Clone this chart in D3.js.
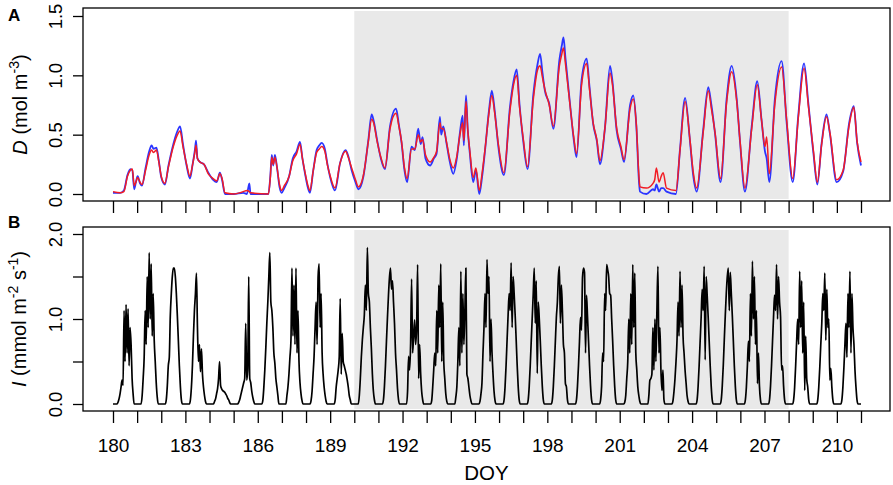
<!DOCTYPE html>
<html>
<head>
<meta charset="utf-8">
<script src="https://cdn.jsdelivr.net/npm/d3@7"></script>
<style>
  body { margin: 0; background: #fff; }
  svg text { font-family: "Liberation Sans", Arial, Helvetica, sans-serif; fill: #000; }
</style>
</head>
<body>
<script>
// ---- panel A: D, two series (doy, blue, red)
var dDoy = [180.00, 180.30, 180.45, 180.60, 180.72, 180.80, 180.88, 180.95, 181.02, 181.12, 181.20, 181.35, 181.50, 181.60, 181.68, 181.80, 181.90, 182.00, 182.15, 182.30, 182.50, 182.65, 182.78, 182.90, 183.05, 183.19, 183.30, 183.40, 183.44, 183.50, 183.60, 183.77, 183.95, 184.15, 184.30, 184.43, 184.52, 184.64, 185.00, 185.40, 185.55, 185.65, 185.70, 186.44, 186.52, 186.58, 186.64, 186.71, 186.80, 186.90, 186.99, 187.10, 187.30, 187.45, 187.61, 187.75, 187.85, 187.96, 188.08, 188.16, 188.30, 188.44, 188.55, 188.65, 188.78, 188.88, 188.99, 189.20, 189.41, 189.64, 189.75, 189.89, 190.05, 190.17, 190.38, 190.58, 190.72, 190.80, 190.95, 191.10, 191.27, 191.48, 191.73, 191.85, 191.96, 192.08, 192.19, 192.37, 192.51, 192.65, 192.75, 192.83, 192.95, 193.14, 193.30, 193.41, 193.55, 193.60, 193.69, 193.82, 193.95, 194.10, 194.25, 194.38, 194.49, 194.54, 194.63, 194.70, 194.79, 194.93, 195.04, 195.18, 195.30, 195.42, 195.58, 195.70, 195.82, 195.97, 196.20, 196.45, 196.60, 196.73, 196.85, 197.00, 197.18, 197.42, 197.60, 197.70, 197.80, 197.90, 198.08, 198.25, 198.50, 198.60, 198.67, 198.75, 198.94, 199.10, 199.21, 199.42, 199.63, 199.75, 199.90, 200.05, 200.18, 200.39, 200.60, 200.70, 200.87, 201.05, 201.18, 201.43, 201.56, 201.69, 201.80, 201.84, 202.11, 202.38, 202.45, 202.52, 202.63, 202.72, 202.80, 202.94, 203.33, 203.50, 203.71, 203.91, 204.05, 204.19, 204.46, 204.67, 204.80, 204.95, 205.18, 205.43, 205.64, 205.85, 205.99, 206.19, 206.47, 206.70, 206.88, 207.02, 207.09, 207.20, 207.43, 207.71, 207.92, 208.17, 208.40, 208.64, 208.82, 209.03, 209.19, 209.37, 209.57, 209.71, 209.99, 210.26, 210.51, 210.70, 210.84, 211.00];
var dBlue = [0.01, 0.01, 0.03, 0.16, 0.21, 0.20, 0.04, 0.10, 0.15, 0.09, 0.07, 0.22, 0.36, 0.41, 0.38, 0.39, 0.28, 0.14, 0.08, 0.24, 0.42, 0.52, 0.57, 0.42, 0.24, 0.13, 0.25, 0.38, 0.45, 0.30, 0.27, 0.25, 0.18, 0.12, 0.10, 0.18, 0.12, 0.00, 0.00, 0.01, 0.00, 0.09, 0.00, 0.00, 0.15, 0.33, 0.24, 0.33, 0.22, 0.06, 0.01, 0.05, 0.15, 0.30, 0.36, 0.44, 0.30, 0.17, 0.05, 0.01, 0.20, 0.37, 0.41, 0.43, 0.38, 0.26, 0.15, 0.03, 0.26, 0.37, 0.32, 0.20, 0.10, 0.04, 0.15, 0.45, 0.67, 0.62, 0.45, 0.30, 0.21, 0.57, 0.72, 0.58, 0.43, 0.20, 0.10, 0.40, 0.37, 0.55, 0.42, 0.48, 0.30, 0.24, 0.30, 0.34, 0.65, 0.50, 0.57, 0.43, 0.28, 0.17, 0.30, 0.52, 0.66, 0.41, 0.83, 0.55, 0.34, 0.10, 0.20, 0.00, 0.15, 0.37, 0.70, 0.87, 0.70, 0.40, 0.16, 0.73, 0.95, 1.05, 0.75, 0.45, 0.21, 0.84, 1.10, 1.18, 1.02, 0.87, 0.76, 0.55, 1.13, 1.25, 1.32, 1.15, 0.76, 0.45, 0.31, 0.96, 1.14, 0.90, 0.59, 0.45, 0.25, 0.56, 1.08, 0.95, 0.54, 0.38, 0.27, 0.75, 0.83, 0.57, 0.10, 0.02, 0.00, 0.04, 0.03, 0.08, 0.02, 0.05, 0.05, 0.02, 0.00, 0.38, 0.81, 0.45, 0.15, 0.02, 0.54, 0.90, 0.75, 0.51, 0.10, 0.80, 1.08, 0.80, 0.43, 0.02, 0.57, 0.95, 0.62, 0.36, 0.30, 0.10, 0.80, 1.12, 0.60, 0.10, 0.66, 1.10, 0.76, 0.34, 0.08, 0.43, 0.67, 0.51, 0.10, 0.19, 0.60, 0.74, 0.43, 0.24];
var dRed = [0.02, 0.01, 0.02, 0.15, 0.20, 0.21, 0.07, 0.10, 0.14, 0.10, 0.08, 0.20, 0.33, 0.37, 0.35, 0.37, 0.27, 0.15, 0.09, 0.23, 0.40, 0.49, 0.53, 0.40, 0.25, 0.15, 0.25, 0.36, 0.41, 0.30, 0.27, 0.25, 0.17, 0.13, 0.11, 0.17, 0.13, 0.01, 0.00, 0.02, 0.03, 0.02, 0.01, 0.00, 0.14, 0.31, 0.25, 0.31, 0.22, 0.08, 0.03, 0.07, 0.15, 0.28, 0.34, 0.42, 0.30, 0.18, 0.07, 0.03, 0.20, 0.35, 0.38, 0.40, 0.36, 0.25, 0.16, 0.05, 0.26, 0.36, 0.31, 0.22, 0.12, 0.06, 0.16, 0.44, 0.63, 0.60, 0.44, 0.31, 0.22, 0.55, 0.68, 0.57, 0.44, 0.22, 0.13, 0.38, 0.38, 0.50, 0.44, 0.46, 0.33, 0.27, 0.31, 0.36, 0.60, 0.55, 0.55, 0.44, 0.30, 0.22, 0.32, 0.50, 0.60, 0.45, 0.78, 0.55, 0.36, 0.14, 0.22, 0.03, 0.18, 0.38, 0.68, 0.83, 0.68, 0.42, 0.18, 0.70, 0.92, 1.00, 0.73, 0.47, 0.23, 0.80, 1.05, 1.08, 0.98, 0.88, 0.75, 0.57, 1.08, 1.18, 1.23, 1.10, 0.75, 0.47, 0.34, 0.92, 1.10, 0.88, 0.60, 0.46, 0.28, 0.56, 1.02, 0.92, 0.56, 0.40, 0.29, 0.72, 0.80, 0.58, 0.14, 0.06, 0.05, 0.09, 0.12, 0.22, 0.10, 0.15, 0.18, 0.05, 0.03, 0.37, 0.78, 0.46, 0.18, 0.05, 0.52, 0.87, 0.72, 0.52, 0.13, 0.77, 1.03, 0.78, 0.44, 0.05, 0.55, 0.92, 0.62, 0.40, 0.48, 0.17, 0.76, 1.07, 0.62, 0.13, 0.64, 1.06, 0.74, 0.36, 0.10, 0.42, 0.65, 0.52, 0.12, 0.20, 0.58, 0.73, 0.44, 0.27];

// ---- panel B: I, hourly readings (hours 4..21) for each day, zero at night
var lightDays = [180, 181, 182, 183, 184, 185, 186, 187, 188, 189, 190, 191, 192, 193, 194, 195, 196, 197, 198, 199, 200, 201, 202, 203, 204, 205, 206, 207, 208, 209, 210];
var lightHours = [4, 5, 6, 7, 8, 9, 10, 11, 12, 13, 14, 15, 16, 17, 18, 19, 20, 21];
var lightValues = [
  [0, .02, .06, .12, .20, .28, .22, 1.10, .50, 1.17, .60, 1.12, .45, .90, .70, .30, .12, 0],
  [0, .10, .30, .55, 1.10, .70, 1.50, .90, 1.78, 1.00, 1.65, .80, 1.30, .75, .50, .25, .08, 0],
  [0, .05, .21, .45, .55, 1.04, 1.30, 1.50, 1.60, 1.60, 1.50, 1.30, 1.04, .75, .45, .21, .05, 0],
  [0, .05, .20, .45, .80, 1.10, 1.30, 1.54, .90, .50, .70, .38, .65, .35, .20, .10, .03, 0],
  [0, .03, .06, .12, .18, .30, .50, .22, .18, .16, .15, .14, .12, .10, .07, .05, .02, 0],
  [0, .02, .05, .10, .15, .20, .25, .30, .95, .28, .40, 1.50, .30, .25, .15, .08, .03, 0],
  [0, .04, .19, .40, .66, .95, 1.20, 1.50, 1.78, 1.20, 1.10, .90, .60, .48, .30, .20, .10, 0],
  [0, .10, .20, .35, .55, .75, 1.60, .80, 1.40, .70, 1.60, .60, 1.10, .50, .25, .12, .04, 0],
  [0, .04, .15, .35, .56, .90, 1.20, .70, 1.50, 1.65, .90, 1.30, .60, .35, .20, .10, .03, 0],
  [0, .05, .20, .30, .40, .55, 1.24, .35, .83, .50, .45, .40, .35, .28, .20, .10, .05, 0],
  [0, .10, .30, .55, .75, .90, 1.05, 1.40, 1.10, 1.84, 1.30, 1.20, .90, .65, .35, .15, .05, 0],
  [0, .05, .21, .45, .74, 1.02, 1.28, 1.49, 1.60, 1.35, 1.45, 1.20, .95, .60, .40, .18, .05, 0],
  [0, .15, .56, .40, .70, 1.47, .60, .80, .99, .70, .90, 1.64, .30, .70, .36, .15, .05, 0],
  [0, .04, .20, .40, .60, .45, 1.10, .60, 1.40, .90, 1.65, .50, 1.20, .50, .30, .12, .03, 0],
  [0, .08, .20, .50, .90, .45, 1.56, .60, 1.30, .70, 1.10, 1.60, .35, .30, .20, .10, .04, 0],
  [0, .03, .12, .25, .60, .90, 1.30, .90, 1.70, 1.30, 1.50, .50, 1.00, .60, .35, .15, .04, 0],
  [0, .05, .21, .46, .76, 1.05, 1.30, 1.10, 1.66, .90, 1.50, 1.30, 1.05, .76, .46, .21, .05, 0],
  [0, .05, .21, .45, .74, 1.02, 1.30, 1.60, .95, 1.45, .36, 1.20, 1.00, .74, .45, .21, .05, 0],
  [0, .05, .21, .45, .74, 1.02, 1.20, 1.50, 1.62, .95, 1.40, 1.10, .70, .60, .24, .20, .05, 0],
  [0, .05, .21, .45, .74, 1.02, .87, 1.49, 1.60, 1.55, .60, 1.28, 1.02, .74, .45, .21, .05, 0],
  [0, .05, .21, .60, .50, 1.30, 1.10, 1.64, 1.58, 1.50, 1.30, 1.28, 1.00, .74, .45, .21, .05, 0],
  [0, .02, .10, .30, .50, 1.00, .60, 1.30, .70, 1.64, .90, 1.54, .60, .40, .20, .10, .03, 0],
  [0, .10, .28, .30, .35, .90, .40, 1.00, .50, 1.10, 1.62, .60, .90, .40, .16, .40, .05, 0],
  [0, .04, .15, .30, .50, .75, 1.20, .80, 1.56, .90, 1.40, .80, .60, .40, .25, .10, .03, 0],
  [0, .05, .21, .45, .74, 1.02, 1.35, 1.10, 1.62, .52, 1.50, 1.28, 1.02, .74, .45, .21, .05, 0],
  [0, .05, .21, .45, .75, 1.04, 1.30, 1.50, 1.60, 1.10, 1.55, 1.30, 1.04, .75, .45, .21, .05, 0],
  [0, .05, .20, .45, .74, .50, 1.30, .80, 1.68, 1.00, 1.50, .70, 1.10, .24, .60, .21, .05, 0],
  [0, .05, .21, .45, .74, 1.02, 1.28, 1.10, 1.64, 1.00, 1.50, 1.20, 1.02, .40, .45, .21, .05, 0],
  [0, .05, .20, .45, .74, 1.00, .70, 1.56, .90, 1.45, .60, 1.20, .16, .80, .30, .20, .05, 0],
  [0, .05, .20, .43, .70, .95, 1.30, 1.10, 1.54, .75, 1.35, .90, 1.00, .28, .42, .20, .05, 0],
  [0, .05, .20, .43, .70, .95, .55, 1.30, .90, 1.56, .60, 1.30, .90, .70, .40, .20, .05, 0]
];

// axis ticks / labels
var dayTicks = [180, 181, 182, 183, 184, 185, 186, 187, 188, 189, 190, 191, 192, 193, 194, 195, 196, 197, 198, 199, 200, 201, 202, 203, 204, 205, 206, 207, 208, 209, 210, 211];
var dayLabels = [180, 183, 186, 189, 192, 195, 198, 201, 204, 207, 210];
var dTicks = [0, 0.5, 1.0, 1.5];
var iTicks = [0, 0.5, 1.0, 1.5, 2.0];
var iLabels = [0, 1.0, 2.0];
var shadeRange = [190, 208];

var W = 893, H = 485;
var svg = d3.select("body").append("svg")
    .attr("width", W)
    .attr("height", H);

var boxLeft = 83, boxRight = 890;
var boxA = {top: 8, bottom: 201};
var boxB = {top: 227, bottom: 411};

// scales
var x = d3.scaleLinear().domain([180, 211]).range([113, 861]);
var yA = d3.scaleLinear().domain([0, 1.5]).range([194, 16]);
var yB = d3.scaleLinear().domain([0, 2]).range([404, 234]);

// build data rows
var dRows = dDoy.map(function (d, i) {
    return {doy: d, blue: dBlue[i], red: dRed[i]};
});
var iRows = [{doy: lightDays[0], v: 0}];
lightDays.forEach(function (day, i) {
    lightHours.forEach(function (h, j) {
        iRows.push({doy: day + h / 24, v: lightValues[i][j]});
    });
});
iRows.push({doy: lightDays[lightDays.length - 1] + 1, v: 0});

function panel(box) {
    // shaded period
    svg.append("rect")
        .attr("x", x(shadeRange[0]))
        .attr("y", box.top + 3)
        .attr("width", x(shadeRange[1]) - x(shadeRange[0]))
        .attr("height", box.bottom - box.top - 5)
        .attr("fill", "#e9e9e9");
}

function frame(box) {
    svg.append("rect")
        .attr("x", boxLeft)
        .attr("y", box.top)
        .attr("width", boxRight - boxLeft)
        .attr("height", box.bottom - box.top)
        .attr("fill", "none")
        .attr("stroke", "#000")
        .attr("stroke-width", 1.3);
}

panel(boxA);
panel(boxB);

// lines panel A
var blueLine = d3.line()
    .x(function (d) { return x(d.doy); })
    .y(function (d) { return yA(d.blue); })
    .curve(d3.curveMonotoneX);
var redLine = d3.line()
    .x(function (d) { return x(d.doy); })
    .y(function (d) { return yA(d.red); })
    .curve(d3.curveMonotoneX);

svg.append("path")
    .attr("d", blueLine(dRows))
    .attr("fill", "none")
    .attr("stroke", "#2b35ff")
    .attr("stroke-width", 1.8);
svg.append("path")
    .attr("d", redLine(dRows))
    .attr("fill", "none")
    .attr("stroke", "#f21c24")
    .attr("stroke-width", 1.5);

// line panel B
var lightLine = d3.line()
    .x(function (d) { return x(d.doy); })
    .y(function (d) { return yB(d.v); })
    .curve(d3.curveMonotoneX);
svg.append("path")
    .attr("d", lightLine(iRows))
    .attr("fill", "none")
    .attr("stroke", "#000")
    .attr("stroke-width", 1.7)
    .attr("stroke-linejoin", "round");

frame(boxA);
frame(boxB);

// x axes
function xAxis(yPos, labels) {
    var g = svg.append("g")
        .attr("transform", "translate(0," + yPos + ")")
        .call(d3.axisBottom(x)
            .tickValues(dayTicks)
            .tickSize(12)
            .tickPadding(16)
            .tickFormat(function (d) { return labels && dayLabels.indexOf(d) >= 0 ? d : ""; }));
    g.select(".domain").remove();
    g.selectAll(".tick line").attr("stroke-width", 1.3);
    g.selectAll("text")
        .attr("font-size", 19)
        .attr("font-family", "Liberation Sans, Arial, sans-serif");
}
xAxis(boxA.bottom, false);
xAxis(boxB.bottom, true);

// y axes
function yAxis(scale, ticks, labels) {
    var g = svg.append("g")
        .attr("transform", "translate(" + boxLeft + ",0)")
        .call(d3.axisLeft(scale)
            .tickValues(ticks)
            .tickSize(10)
            .tickFormat(function (d) { return labels.indexOf(d) >= 0 ? d3.format(".1f")(d) : ""; }));
    g.select(".domain").remove();
    g.selectAll(".tick line").attr("stroke-width", 1.3);
    g.selectAll("text")
        .attr("transform", "rotate(-90)")
        .attr("x", 0)
        .attr("y", -21)
        .attr("dy", 0)
        .attr("text-anchor", "middle")
        .attr("font-size", 18.5)
        .attr("font-family", "Liberation Sans, Arial, sans-serif");
}
yAxis(yA, dTicks, dTicks);
yAxis(yB, iTicks, iLabels);

// axis titles
var tA = svg.append("text")
    .attr("transform", "translate(27," + ((boxA.top + boxA.bottom) / 2) + ") rotate(-90)")
    .attr("text-anchor", "middle")
    .attr("font-size", 20);
tA.append("tspan").attr("font-style", "italic").text("D");
tA.append("tspan").text(" (mol m");
tA.append("tspan").attr("font-size", 14).attr("dy", -8).text("-3");
tA.append("tspan").attr("dy", 8).text(")");

var tB = svg.append("text")
    .attr("transform", "translate(26," + ((boxB.top + boxB.bottom) / 2) + ") rotate(-90)")
    .attr("text-anchor", "middle")
    .attr("font-size", 20);
tB.append("tspan").attr("font-style", "italic").text("I");
tB.append("tspan").text(" (mmol m");
tB.append("tspan").attr("font-size", 14).attr("dy", -8).text("-2");
tB.append("tspan").attr("dy", 8).text(" s");
tB.append("tspan").attr("font-size", 14).attr("dy", -8).text("-1");
tB.append("tspan").attr("dy", 8).text(")");

svg.append("text")
    .attr("x", (boxLeft + boxRight) / 2)
    .attr("y", 480)
    .attr("text-anchor", "middle")
    .attr("font-size", 20.5)
    .text("DOY");

// panel letters
svg.append("text").attr("x", 8).attr("y", 21)
    .attr("font-size", 17).attr("font-weight", "bold").text("A");
svg.append("text").attr("x", 8).attr("y", 228)
    .attr("font-size", 17).attr("font-weight", "bold").text("B");
</script>
</body>
</html>
